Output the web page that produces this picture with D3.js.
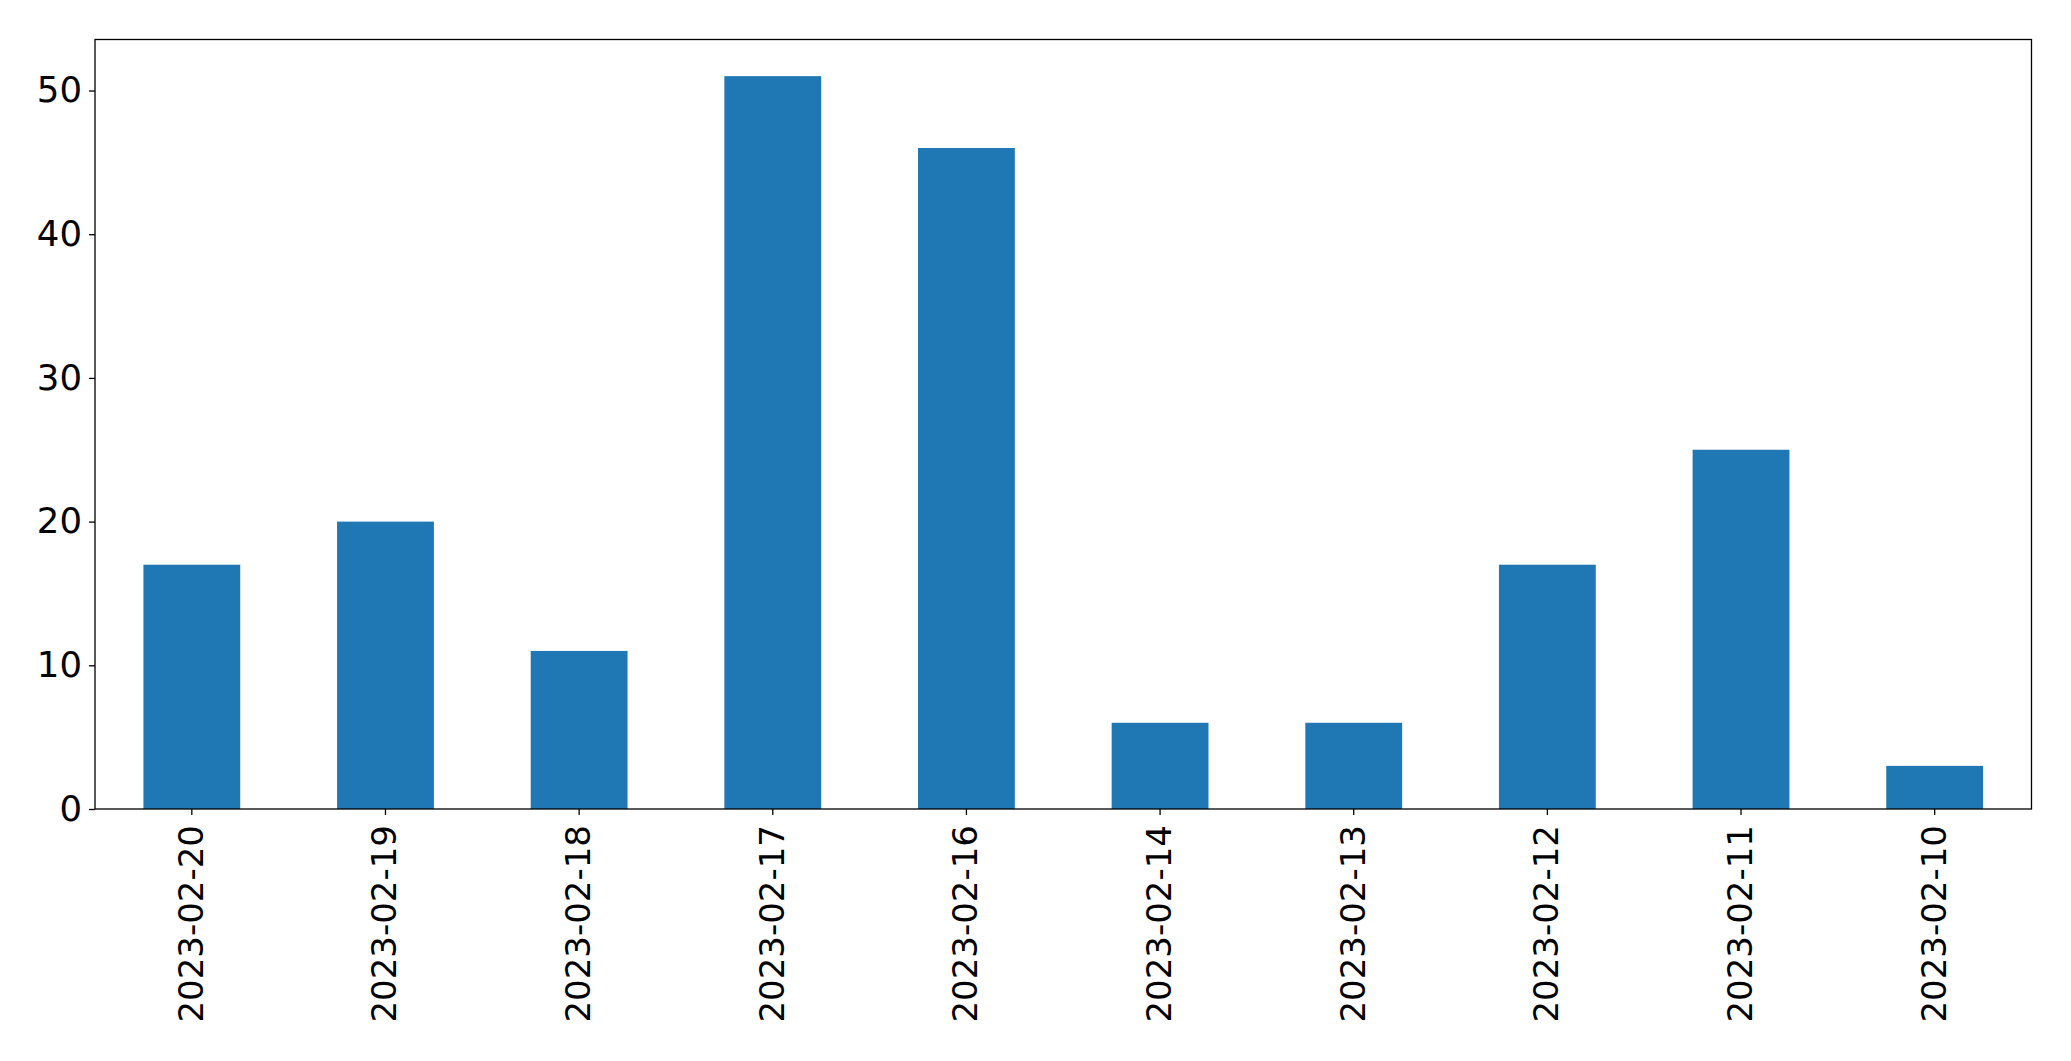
<!DOCTYPE html>
<html>
<head>
<meta charset="utf-8">
<script src="https://cdn.jsdelivr.net/npm/d3@7"></script>
<style>
  html, body { margin: 0; padding: 0; background: #fff; }
  svg { display: block; }
  text { font-family: "DejaVu Sans", sans-serif; fill: #000; }
</style>
</head>
<body>
<svg id="chart" width="2071" height="1061"></svg>
<script>
const categories = ["2023-02-20","2023-02-19","2023-02-18","2023-02-17","2023-02-16","2023-02-14","2023-02-13","2023-02-12","2023-02-11","2023-02-10"];
const values = [17, 20, 11, 51, 46, 6, 6, 17, 25, 3];
const yTicks = [0, 10, 20, 30, 40, 50];

const W = 2071, H = 1061;
const m = {left: 95, right: 2031.5, top: 39.5, bottom: 809};
const yFont = 35.5, xFont = 34;

const svg = d3.select("#chart");

const x = d3.scaleBand().domain(categories).range([m.left, m.right]).paddingInner(0.5).paddingOuter(0.25);
const yMax = d3.max(values) * 1.05;
const y = d3.scaleLinear().domain([0, yMax]).range([m.bottom, m.top]);

svg.append("g").selectAll("rect").data(values).join("rect")
  .attr("x", (d, i) => x(categories[i]))
  .attr("y", d => y(d))
  .attr("width", x.bandwidth())
  .attr("height", d => y(0) - y(d))
  .attr("fill", "#1f77b4");

// axes
const yAxis = svg.append("g").attr("transform", `translate(${m.left},0)`)
  .call(d3.axisLeft(y).tickValues(yTicks).tickSize(6).tickPadding(7).tickFormat(d3.format("d")));
yAxis.select(".domain").remove();
yAxis.selectAll("text").style("font-size", yFont + "px").attr("font-family", "DejaVu Sans");
yAxis.selectAll("line").attr("stroke", "#000").attr("stroke-width", 1.3);

const xAxis = svg.append("g").attr("transform", `translate(0,${m.bottom})`)
  .call(d3.axisBottom(x).tickSize(6).tickPadding(10));
xAxis.select(".domain").remove();
xAxis.selectAll("line").attr("stroke", "#000").attr("stroke-width", 1.3);
xAxis.selectAll("text")
  .style("font-size", xFont + "px")
  .attr("font-family", "DejaVu Sans")
  .attr("text-anchor", "end")
  .attr("dy", null)
  .attr("dominant-baseline", "central")
  .attr("transform", "translate(-1,16) rotate(-90)")
  .attr("x", 0).attr("y", 0);

// frame
svg.append("rect")
  .attr("x", m.left).attr("y", m.top)
  .attr("width", m.right - m.left).attr("height", m.bottom - m.top)
  .attr("fill", "none").attr("stroke", "#000").attr("stroke-width", 1.3);
</script>
</body>
</html>
